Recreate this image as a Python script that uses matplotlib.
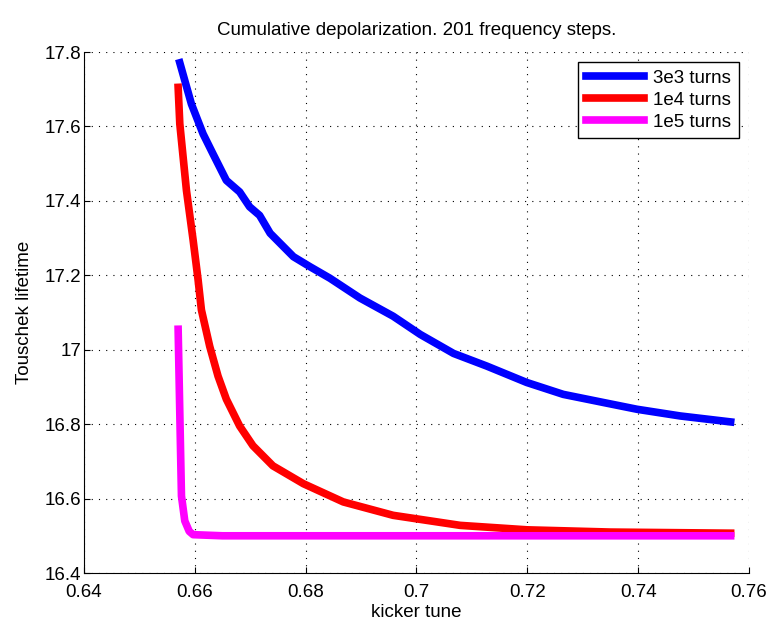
import numpy as np
import matplotlib
matplotlib.use('Agg')
import matplotlib.pyplot as plt

plt.rcParams['font.family'] = ['Liberation Sans', 'DejaVu Sans']

# 3e3 turns
x_3e3 = [0.6573, 0.6594, 0.6615, 0.6633, 0.6657, 0.6681, 0.6699, 0.6717, 0.6736,
         0.6760, 0.6778, 0.6808, 0.6844, 0.6898, 0.6958, 0.7007, 0.7067, 0.7127,
         0.7199, 0.7265, 0.7338, 0.7398, 0.7476, 0.7567]
y_3e3 = [17.771, 17.660, 17.580, 17.526, 17.455, 17.424, 17.384, 17.361, 17.313,
         17.277, 17.250, 17.223, 17.192, 17.139, 17.090, 17.041, 16.990, 16.956,
         16.912, 16.880, 16.858, 16.840, 16.822, 16.806]

# 1e4 turns
x_1e4 = [0.6570, 0.6573, 0.6585, 0.6597, 0.6606, 0.6612, 0.6627, 0.6642, 0.6657,
         0.6681, 0.6705, 0.6741, 0.6796, 0.6868, 0.6958, 0.7079, 0.7200, 0.7350,
         0.7567]
y_1e4 = [17.705, 17.607, 17.428, 17.295, 17.188, 17.107, 17.009, 16.929, 16.867,
         16.795, 16.742, 16.688, 16.640, 16.591, 16.555, 16.528, 16.516, 16.510,
         16.507]

# 1e5 turns
x_1e5 = [0.6570, 0.6573, 0.6576, 0.6582, 0.6590, 0.6597, 0.6650, 0.7567]
y_1e5 = [17.055, 16.830, 16.607, 16.540, 16.512, 16.503, 16.500, 16.500]

fig = plt.figure(figsize=(7.7, 6.25), dpi=100)
ax = fig.add_axes([0.109, 0.0832, 0.8636, 0.8336])

ax.plot(x_3e3, y_3e3, color='#0000ff', linewidth=5.5, label='3e3 turns')
ax.plot(x_1e4, y_1e4, color='#ff0000', linewidth=5.5, label='1e4 turns')
ax.plot(x_1e5, y_1e5, color='#ff00ff', linewidth=5.5, label='1e5 turns')

ax.set_xlim(0.64, 0.76)
ax.set_ylim(16.4, 17.8)
ax.set_xticks(np.arange(0.64, 0.7601, 0.02))
ax.set_xticklabels(['0.64', '0.66', '0.68', '0.7', '0.72', '0.74', '0.76'])
ax.set_yticks(np.arange(16.4, 17.801, 0.2))
ax.set_yticklabels(['16.4', '16.6', '16.8', '17', '17.2', '17.4', '17.6', '17.8'])
ax.tick_params(direction='in', labelsize=13.5, length=4.5)
ax.tick_params(axis='x', pad=8)
ax.tick_params(axis='y', pad=2)
ax.spines['top'].set_visible(False)
ax.spines['right'].set_visible(False)
ax.grid(True, color='black', linestyle=(0, (1, 5.5)), linewidth=0.8)

ax.set_title('Cumulative depolarization. 201 frequency steps.', fontsize=13.5, pad=12)
ax.set_xlabel('kicker tune', fontsize=13.5, labelpad=2)
ax.set_ylabel('Touschek lifetime', fontsize=13.5, labelpad=8)

leg = ax.legend(loc='upper right', fontsize=13.5, handlelength=3.1, fancybox=False,
                framealpha=1, edgecolor='black', borderaxespad=0.55,
                labelspacing=0.25, handletextpad=0.5, borderpad=0.4)
leg.get_frame().set_linewidth(1.0)

fig.savefig('out.png', dpi=100)
